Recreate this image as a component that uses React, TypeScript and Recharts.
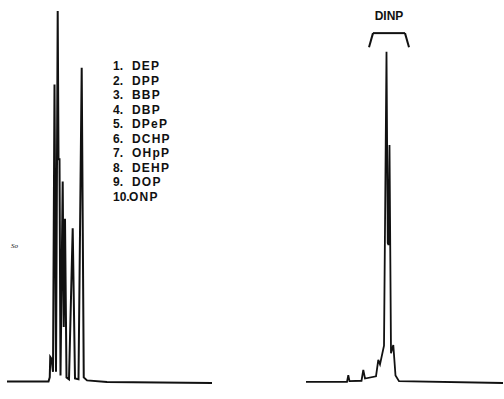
import { LineChart, Line, XAxis, YAxis, ReferenceLine } from 'recharts';

// left trace: mixture of ten phthalates (time units, detector signal %)
const leftTime = [0, 8.3, 8.55, 8.65, 8.9, 9.2, 9.5, 9.8, 10.14, 10.3, 10.5, 10.7, 11.14, 11.35, 11.6, 11.9, 12.4, 13.14, 13.6, 14.3, 14.94, 15.35, 16, 20, 41];
const leftSignal = [0.4, 0.4, 1.5, 7, 6.5, 3, 80, 3, 99.7, 60, 60, 2, 54, 15, 44, 1.5, 1, 41.5, 1.2, 1, 84.5, 1.5, 0.7, 0.3, 0];

// right trace: DINP
const rightTime = [0, 8.2, 8.46, 8.7, 11.1, 11.46, 11.8, 14.0, 14.46, 14.8, 15.6, 16.1, 16.35, 16.5, 16.7, 17.0, 17.46, 17.9, 18.6, 39.4];
const rightSignal = [0.3, 0.3, 2.1, 0.5, 0.6, 3.5, 1.2, 1.8, 6.2, 5, 10, 88.8, 37.5, 37, 63.8, 8, 10.2, 2, 0.5, 0];

const compoundNo = ['1.', '2.', '3.', '4.', '5.', '6.', '7.', '8.', '9.', '10.'];
const compoundName = ['DEP', 'DPP', 'BBP', 'DBP', 'DPeP', 'DCHP', 'OHpP', 'DEHP', 'DOP', 'ONP'];

const leftData = leftTime.map((t, i) => ({ t, v: leftSignal[i] }));
const rightData = rightTime.map((t, i) => ({ t, v: rightSignal[i] }));

const ink = '#111';
const labelFont = { fontFamily: '"Liberation Sans", Arial, sans-serif', fontWeight: 700, fontSize: 12 };

export default function App() {
    return (
        <div style={{ position: 'absolute', left: 0, top: 0, width: 504, height: 399, background: '#fff', overflow: 'hidden' }}>
            <div style={{ position: 'absolute', left: 0, top: 0 }}>
                <LineChart width={220} height={399} data={leftData} margin={{ top: 10, right: 8, bottom: 16, left: 7 }}>
                    <XAxis dataKey="t" type="number" domain={[0, 41]} hide />
                    <YAxis domain={[0, 100]} hide />
                    <Line type="linear" dataKey="v" stroke={ink} strokeWidth={2} dot={false} isAnimationActive={false} />
                </LineChart>
            </div>
            <div style={{ position: 'absolute', left: 300, top: 0 }}>
                <LineChart width={204} height={399} data={rightData} margin={{ top: 10, right: 1, bottom: 16, left: 6 }}>
                    <XAxis dataKey="t" type="number" domain={[0, 39.4]} hide />
                    <YAxis domain={[0, 100]} hide />
                    <ReferenceLine segment={[{ x: 12.6, y: 90 }, { x: 13.4, y: 93.8 }]} stroke={ink} strokeWidth={2} ifOverflow="visible" />
                    <ReferenceLine segment={[{ x: 13.4, y: 93.8 }, { x: 19.8, y: 93.8 }]} stroke={ink} strokeWidth={2} ifOverflow="visible" />
                    <ReferenceLine segment={[{ x: 19.8, y: 93.8 }, { x: 20.6, y: 90 }]} stroke={ink} strokeWidth={2} ifOverflow="visible" />
                    <Line type="linear" dataKey="v" stroke={ink} strokeWidth={1.8} dot={false} isAnimationActive={false} />
                </LineChart>
            </div>
            <svg width={504} height={399} style={{ position: 'absolute', left: 0, top: 0, pointerEvents: 'none' }}>
                {compoundNo.map((n, i) => (
                    <g key={n} fill={ink} style={labelFont}>
                        <text x={113} y={70 + i * 14.5}>{n}</text>
                        <text x={i === 9 ? 129 : 132} y={70 + i * 14.5} letterSpacing={1.2}>{compoundName[i]}</text>
                    </g>
                ))}
                <text x={389} y={19.5} textAnchor="middle" fill={ink} style={labelFont}>DINP</text>
                <text x={11} y={248} fill={ink} style={{ fontFamily: 'serif', fontStyle: 'italic', fontSize: 7 }}>So</text>
            </svg>
        </div>
    );
}
